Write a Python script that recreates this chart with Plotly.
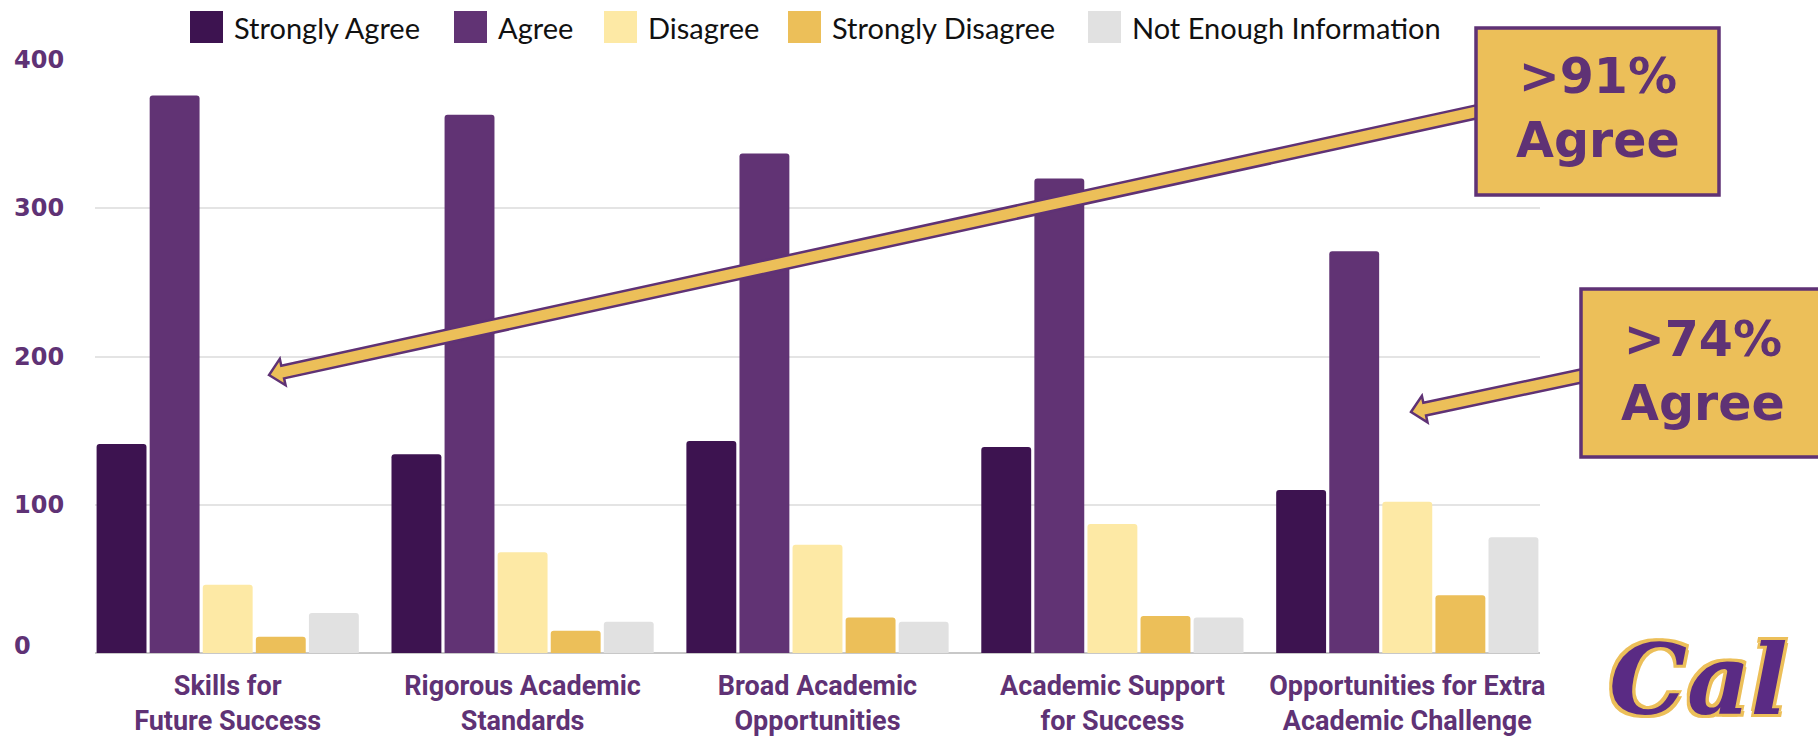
import math
import plotly.graph_objects as go

# ---------------- data ----------------
categories = [
    "Skills for Future Success",
    "Rigorous Academic Standards",
    "Broad Academic Opportunities",
    "Academic Support for Success",
    "Opportunities for Extra Academic Challenge",
]
tick_labels = [
    "Skills for<br>Future Success",
    "Rigorous Academic<br>Standards",
    "Broad Academic<br>Opportunities",
    "Academic Support<br>for Success",
    "Opportunities for Extra<br>Academic Challenge",
]
series_names = ["Strongly Agree", "Agree", "Disagree", "Strongly Disagree", "Not Enough Information"]
strongly_agree = [141, 134, 143, 139, 110]
agree = [376, 363, 337, 320, 271]
disagree = [46, 68, 73, 87, 102]
strongly_disagree = [11, 15, 24, 25, 39]
not_enough_info = [27, 21, 21, 24, 78]
y_ticks = [0, 100, 200, 300, 400]
callouts = [">91%<br>Agree", ">74%<br>Agree"]

# ---------------- style ----------------
colors = ["#3d1350", "#613374", "#fde9a5", "#ecbf59", "#e1e1e1"]
PURPLE = "#5f3275"
GOLD = "#ecbf59"
W, H = 1818, 739
L, R, T, B = 95, 278, 60, 86
PW, PH = W - L - R, H - T - B


def px(x):
    return (x - L) / PW


def py(y):
    return (H - B - y) / PH


fig = go.Figure()
values = [strongly_agree, agree, disagree, strongly_disagree, not_enough_info]
for name, vals, col in zip(series_names, values, colors):
    fig.add_trace(go.Bar(name=name, x=categories, y=vals, marker=dict(color=col, line=dict(width=0)),
                         showlegend=False))

shapes = []
annotations = []

# y tick labels (left aligned)
for v in y_ticks:
    annotations.append(dict(x=px(12), xref="paper", y=v, yref="y", xanchor="left", yanchor="middle",
                            text=f"<b>{v}</b>", showarrow=False, yshift=7 if v == 0 else 0,
                            font=dict(family="DejaVu Sans", size=24, color=PURPLE)))

# manual legend (large square swatches)
leg_x = [190, 454, 604, 788, 1088]
for name, col, lx in zip(series_names, colors, leg_x):
    shapes.append(dict(type="rect", xref="paper", yref="paper", x0=px(lx), x1=px(lx + 33),
                       y0=py(43), y1=py(11), fillcolor=col, line=dict(width=0), layer="above"))
    annotations.append(dict(x=px(lx + 42), xref="paper", y=py(27), yref="paper", xanchor="left",
                            yanchor="middle", text=name, showarrow=False,
                            font=dict(family="Lato", size=29, color="#111111")))


# arrows (outlined block arrows)
def arrow_path(tip, toward, extend=20, hw=6.5, hhw=13.5, hl=14):
    dx, dy = toward[0] - tip[0], toward[1] - tip[1]
    d = math.hypot(dx, dy)
    ux, uy = dx / d, dy / d
    nx, ny = -uy, ux
    bx, by = tip[0] + hl * ux, tip[1] + hl * uy
    ex, ey = toward[0] + extend * ux, toward[1] + extend * uy
    pts = [tip,
           (bx + hhw * nx, by + hhw * ny),
           (bx + hw * nx, by + hw * ny),
           (ex + hw * nx, ey + hw * ny),
           (ex - hw * nx, ey - hw * ny),
           (bx - hw * nx, by - hw * ny),
           (bx - hhw * nx, by - hhw * ny)]
    return "M " + " L ".join(f"{px(x):.5f},{py(y):.5f}" for x, y in pts) + " Z"


shapes.append(dict(type="path", xref="paper", yref="paper", path=arrow_path((269, 375), (1476, 112)),
                   fillcolor=GOLD, line=dict(color=PURPLE, width=2.5), layer="above"))
shapes.append(dict(type="path", xref="paper", yref="paper", path=arrow_path((1411, 412), (1581, 376)),
                   fillcolor=GOLD, line=dict(color=PURPLE, width=2.5), layer="above"))

# callout boxes
boxes = [(1476, 1719, 28, 195, 1598, 108), (1581, 1835, 289, 457, 1703, 371)]
for (x0, x1, y0, y1, cx, cy), txt in zip(boxes, callouts):
    shapes.append(dict(type="rect", xref="paper", yref="paper", x0=px(x0), x1=px(x1), y0=py(y1), y1=py(y0),
                       fillcolor=GOLD, line=dict(color=PURPLE, width=3.5), layer="above"))
    annotations.append(dict(x=px(cx), xref="paper", y=py(cy), yref="paper", xanchor="center",
                            yanchor="middle", text="<b>" + txt.replace(">", "&gt;", 1) + "</b>",
                            showarrow=False, align="center",
                            font=dict(family="DejaVu Sans", size=49, color=PURPLE)))

# Cal logo text
annotations.append(dict(x=px(1608), xref="paper", y=py(738), yref="paper", xanchor="left", yanchor="bottom",
                        text="<b><i>Cal</i></b>", showarrow=False, borderpad=0,
                        font=dict(family="DejaVu Serif", size=98, color="#5a2b84",
                                  shadow="3px 3px 0 #ecbf59, -3px -3px 0 #ecbf59, 3px -3px 0 #ecbf59, -3px 3px 0 #ecbf59")))

fig.update_layout(
    width=W, height=H,
    margin=dict(l=L, r=R, t=T, b=B, pad=0, autoexpand=False),
    paper_bgcolor="white", plot_bgcolor="white",
    barmode="group", bargap=0.1, bargroupgap=0.06, barcornerradius=3,
    shapes=shapes, annotations=annotations,
    showlegend=False,
    xaxis=dict(type="category", categoryorder="array", categoryarray=categories,
               range=[-0.45, 4.45], tickvals=categories, ticktext=tick_labels, automargin=False,
               tickfont=dict(family="Roboto", size=27, color=PURPLE, weight="bold"),
               ticks="", ticklabelstandoff=14, showgrid=False, showline=False, zeroline=False),
    yaxis=dict(range=[0, 400], tickvals=y_ticks, showticklabels=False, showgrid=True, automargin=False,
               gridcolor="#e4e4e4", gridwidth=1.5, zeroline=True, zerolinecolor="#c8c8c8",
               zerolinewidth=2, showline=False, fixedrange=True),
)

fig.write_html("out.html", config={"displayModeBar": False},
               post_script="document.body.style.margin='0';document.body.style.overflow='hidden';")
